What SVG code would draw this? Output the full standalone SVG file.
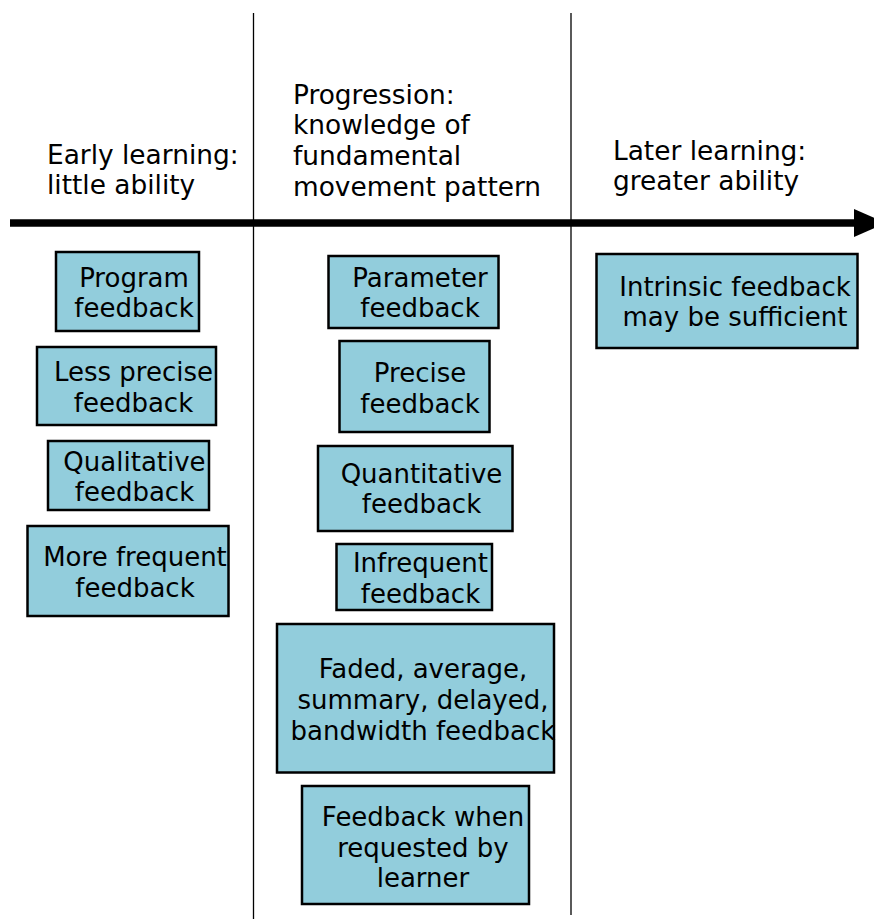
<svg xmlns="http://www.w3.org/2000/svg" width="874" height="919" viewBox="0 0 874 919">
<style>
text{font-family:"DejaVu Sans","Verdana",sans-serif;font-size:26.4px;fill:#000}
.c{text-anchor:middle;font-size:26px}
.box{fill:#92CDDC;stroke:#000;stroke-width:2.5}
.div{stroke:#000;stroke-width:1.3}
</style>
<rect width="874" height="919" fill="#fff"/>
<g id="connectors">
<line class="div" x1="253.5" y1="13" x2="253.5" y2="919"/>
<line class="div" x1="571" y1="13" x2="571" y2="915"/>
<line x1="10" y1="223" x2="856" y2="223" stroke="#000" stroke-width="7.5"/>
<polygon points="854,209 854,237 886,223" fill="#000"/>
</g>
<g id="header-early">
<text x="47" y="163.5">Early learning:</text>
<text x="47" y="193.5">little ability</text>
</g>
<g id="header-progression">
<text x="293" y="103.5">Progression:</text>
<text x="293" y="134">knowledge of</text>
<text x="293" y="165">fundamental</text>
<text x="293" y="195.5">movement pattern</text>
</g>
<g id="header-later">
<text x="613" y="159.5">Later learning:</text>
<text x="613" y="189.5">greater ability</text>
</g>
<g id="program">
<rect class="box" x="56" y="252" width="143" height="79"/>
<text class="c" x="134" y="286.5">Program</text>
<text class="c" x="134" y="317">feedback</text>
</g>
<g id="less-precise">
<rect class="box" x="37" y="347" width="179" height="78"/>
<text class="c" x="133.5" y="381">Less precise</text>
<text class="c" x="133.5" y="411.5">feedback</text>
</g>
<g id="qualitative">
<rect class="box" x="48" y="441" width="161" height="69"/>
<text class="c" x="134.5" y="470.5">Qualitative</text>
<text class="c" x="134.5" y="501">feedback</text>
</g>
<g id="more-frequent">
<rect class="box" x="27.5" y="526" width="201" height="90"/>
<text class="c" x="135" y="566">More frequent</text>
<text class="c" x="135" y="596.5">feedback</text>
</g>
<g id="parameter">
<rect class="box" x="328.5" y="256" width="170" height="72"/>
<text class="c" x="420" y="287">Parameter</text>
<text class="c" x="420" y="317">feedback</text>
</g>
<g id="precise">
<rect class="box" x="339.5" y="341" width="150" height="91"/>
<text class="c" x="420" y="382">Precise</text>
<text class="c" x="420" y="412.5">feedback</text>
</g>
<g id="quantitative">
<rect class="box" x="318" y="446" width="194.5" height="85"/>
<text class="c" x="421.5" y="482.5">Quantitative</text>
<text class="c" x="421.5" y="513">feedback</text>
</g>
<g id="infrequent">
<rect class="box" x="336.5" y="544" width="155.5" height="66"/>
<text class="c" x="420.5" y="572">Infrequent</text>
<text class="c" x="420.5" y="602.5">feedback</text>
</g>
<g id="faded">
<rect class="box" x="277" y="624" width="277" height="148.5"/>
<text class="c" x="423" y="677.5">Faded, average,</text>
<text class="c" x="423" y="708.5">summary, delayed,</text>
<text class="c" x="423" y="739.5">bandwidth feedback</text>
</g>
<g id="requested">
<rect class="box" x="302" y="786" width="227" height="118"/>
<text class="c" x="423" y="825.5">Feedback when</text>
<text class="c" x="423" y="856.5">requested by</text>
<text class="c" x="423" y="886.5">learner</text>
</g>
<g id="intrinsic">
<rect class="box" x="596.5" y="254" width="261" height="94"/>
<text class="c" x="735" y="296">Intrinsic feedback</text>
<text class="c" x="735" y="326">may be sufficient</text>
</g>
</svg>
